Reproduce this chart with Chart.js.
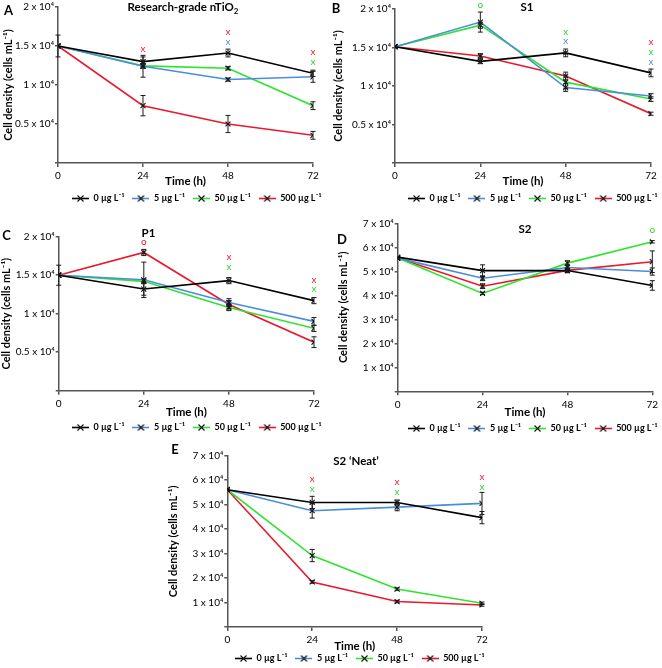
<!DOCTYPE html>
<html><head><meta charset="utf-8">
<script src="https://cdn.jsdelivr.net/npm/chart.js@4.4.0/dist/chart.umd.min.js"></script>
<style>
html,body{margin:0;padding:0;background:#fff;overflow:hidden}
#wrap{position:relative;width:662px;height:668px;overflow:hidden;font-family:Lato,"Open Sans",sans-serif;background:#fff}
canvas{position:absolute}
.lbl{position:absolute;transform:translate(-50%,-50%);font-weight:bold;white-space:nowrap;color:#000;line-height:1}
.letter{font-size:13px}
.ttl{font-size:11.5px}
</style></head><body>
<div id="wrap">
<canvas id="cA" width="331" height="218" style="left:0px;top:0px"></canvas>
<canvas id="cB" width="331" height="218" style="left:331px;top:0px"></canvas>
<canvas id="cC" width="331" height="227" style="left:0px;top:220px"></canvas>
<canvas id="cD" width="331" height="238" style="left:331px;top:210px"></canvas>
<canvas id="cE" width="340" height="238" style="left:160px;top:440px"></canvas>
<div class="lbl letter" style="left:8.5px;top:10px">A</div>
<div class="lbl letter" style="left:336px;top:8px">B</div>
<div class="lbl letter" style="left:6.5px;top:235px">C</div>
<div class="lbl letter" style="left:342px;top:239px">D</div>
<div class="lbl letter" style="left:175px;top:449px">E</div>
<div class="lbl ttl" style="left:183px;top:8px">Research-grade nTiO<sub style="font-size:8px">2</sub></div>
<div class="lbl ttl" style="left:527px;top:7px">S1</div>
<div class="lbl ttl" style="left:148.5px;top:233px">P1</div>
<div class="lbl ttl" style="left:525px;top:229px">S2</div>
<div class="lbl ttl" style="left:356px;top:461px">S2 ‘Neat’</div>
</div>
<script>
// ---------- data ----------
const times = [0, 24, 48, 72];
const seriesNames = ['0 µg L⁻¹', '5 µg L⁻¹', '50 µg L⁻¹', '500 µg L⁻¹'];
const yTicks20k = ['', '0.5 x 10⁴', '1 x 10⁴', '1.5 x 10⁴', '2 x 10⁴'];
const yTicks70k = ['', '1 x 10⁴', '2 x 10⁴', '3 x 10⁴', '4 x 10⁴', '5 x 10⁴', '6 x 10⁴', '7 x 10⁴'];

// Panel A: Research-grade nTiO2 (cells mL-1)
const aMean0 = [15000, 13000, 14100, 11500];
const aMean5 = [15000, 12400, 10700, 11050];
const aMean50 = [15000, 12450, 12150, 7350];
const aMean500 = [15000, 7350, 5000, 3550];
const aErr0 = [0, 600, 500, 400];
const aErr5 = [1400, 1400, 200, 700];
const aErr50 = [0, 300, 200, 500];
const aErr500 = [0, 1300, 1100, 500];
const aMarks = [[24, 14600, 'x', 3], [48, 16800, 'x', 3], [48, 15600, 'x', 1], [72, 14200, 'x', 3], [72, 12950, 'x', 2]];

// Panel B: S1
const bMean0 = [15100, 13200, 14300, 11700];
const bMean5 = [15100, 18300, 9800, 8700];
const bMean50 = [15100, 17900, 10500, 8300];
const bMean500 = [15100, 13900, 11300, 6400];
const bErr0 = [0, 300, 500, 500];
const bErr5 = [0, 1300, 500, 300];
const bErr50 = [0, 400, 800, 300];
const bErr500 = [0, 300, 500, 200];
const bMarks = [[24, 20600, 'o', 2], [48, 17100, 'x', 2], [48, 15900, 'x', 1], [72, 15700, 'x', 3], [72, 14500, 'x', 2], [72, 13100, 'x', 1]];

// Panel C: P1
const cMean0 = [15000, 13200, 14300, 11700];
const cMean5 = [15000, 14400, 11450, 9000];
const cMean50 = [15000, 14200, 10800, 8100];
const cMean500 = [15000, 17950, 11200, 6300];
const cErr0 = [1300, 800, 400, 400];
const cErr5 = [0, 2300, 500, 500];
const cErr50 = [0, 300, 400, 400];
const cErr500 = [0, 400, 500, 700];
const cMarks = [[24, 19400, 'o', 3], [48, 17350, 'x', 3], [48, 16100, 'x', 2], [72, 14400, 'x', 3], [72, 13250, 'x', 2]];

// Panel D: S2
const dMean0 = [55900, 50300, 50300, 44100];
const dMean5 = [55500, 47100, 51600, 49900];
const dMean50 = [55500, 40800, 53400, 62300];
const dMean500 = [55500, 43800, 50400, 54000];
const dErr0 = [0, 2400, 800, 2000];
const dErr5 = [0, 1000, 1000, 1500];
const dErr50 = [0, 500, 1000, 500];
const dErr500 = [0, 1000, 1000, 4500];
const dMarks = [[72, 67400, 'o', 2]];

// Panel E: S2 'Neat'
const eMean0 = [56100, 50900, 50900, 44700];
const eMean5 = [56100, 47500, 49000, 50500];
const eMean50 = [56100, 29200, 15500, 9700];
const eMean500 = [56100, 18400, 10400, 9000];
const eErr0 = [0, 2500, 1000, 2500];
const eErr5 = [0, 3000, 1500, 4500];
const eErr50 = [0, 2500, 500, 500];
const eErr500 = [0, 500, 500, 500];
const eMarks = [[24, 60400, 'x', 3], [24, 56300, 'x', 2], [48, 59400, 'x', 3], [48, 55300, 'x', 2], [72, 61200, 'x', 3], [72, 57200, 'x', 2]];

// ---------- styles / layout ----------
const FAM = 'Lato, "Open Sans", sans-serif';
const lineColors = ['#000000', '#4a8ddc', '#2fe32f', '#e8192c'];
const markColors = ['#000000', '#4a8ddc', '#2fd42f', '#e8192c'];
const axisColor = '#555555';
const LEG_FS = 9, LEG_PAD = 8, LEG_BOX = 17;
const X_TITLE_HALF = 11.5 * 1.2 / 2;

const panels = [
  {cv:'cA', top:7, right:18, yW:58, bottom:165, legCY:200, titleCY:183.3, yTP:1.4, legX:72, yMax:20000, yStep:5000, yLab:yTicks20k,
   means:[aMean0,aMean5,aMean50,aMean500], errs:[aErr0,aErr5,aErr50,aErr500], marks:aMarks},
  {cv:'cB', top:9, right:11, yW:64, bottom:165, legCY:200, titleCY:183, yTP:0.4, legX:77, yMax:20000, yStep:5000, yLab:yTicks20k,
   means:[bMean0,bMean5,bMean50,bMean500], errs:[bErr0,bErr5,bErr50,bErr500], marks:bMarks},
  {cv:'cC', top:16.7, right:17, yW:58.7, bottom:172.7, legCY:209, titleCY:194, yTP:0, legX:72, yMax:20000, yStep:5000, yLab:yTicks20k,
   means:[cMean0,cMean5,cMean50,cMean500], errs:[cErr0,cErr5,cErr50,cErr500], marks:cMarks},
  {cv:'cD', top:13.3, right:9.7, yW:66.7, bottom:183.3, legCY:220, titleCY:204, yTP:6, legX:77, yMax:70000, yStep:10000, yLab:yTicks70k,
   means:[dMean0,dMean5,dMean50,dMean500], errs:[dErr0,dErr5,dErr50,dErr500], marks:dMarks},
  {cv:'cE', top:15.7, right:18, yW:67.3, bottom:189, legCY:220, titleCY:208, yTP:6.7, legX:75, yMax:70000, yStep:10000, yLab:yTicks70k,
   means:[eMean0,eMean5,eMean50,eMean500], errs:[eErr0,eErr5,eErr50,eErr500], marks:eMarks}
];

// legend marker images: coloured line with black cross
const legendImgs = lineColors.map(c => {
  const cv = document.createElement('canvas');
  cv.width = LEG_BOX; cv.height = 9;
  const g = cv.getContext('2d');
  g.strokeStyle = c; g.lineWidth = 1.6;
  g.beginPath(); g.moveTo(0, 4.5); g.lineTo(LEG_BOX, 4.5); g.stroke();
  const m = LEG_BOX / 2;
  g.strokeStyle = '#111'; g.lineWidth = 1.1;
  g.beginPath(); g.moveTo(m - 3, 1.5); g.lineTo(m + 3, 7.5); g.moveTo(m + 3, 1.5); g.lineTo(m - 3, 7.5); g.stroke();
  return cv;
});

const errPlugin = {
  id: 'errbars',
  afterDatasetsDraw(chart) {
    const ctx = chart.ctx, xs = chart.scales.x, ys = chart.scales.y;
    ctx.save();
    ctx.strokeStyle = '#1a1a1a'; ctx.lineWidth = 1;
    chart.data.datasets.forEach(ds => {
      ds.errors.forEach((e, i) => {
        if (!e) return;
        const px = xs.getPixelForValue(ds.data[i].x);
        const y1 = ys.getPixelForValue(ds.data[i].y + e);
        const y2 = ys.getPixelForValue(ds.data[i].y - e);
        ctx.beginPath();
        ctx.moveTo(px, y1); ctx.lineTo(px, y2);
        ctx.moveTo(px - 2.5, y1); ctx.lineTo(px + 2.5, y1);
        ctx.moveTo(px - 2.5, y2); ctx.lineTo(px + 2.5, y2);
        ctx.stroke();
      });
    });
    ctx.restore();
  }
};

panels.forEach(P => {
  const canvas = document.getElementById(P.cv);
  const H = Math.round(P.legCY + LEG_PAD + LEG_FS / 2);
  canvas.height = H;
  const legH = LEG_FS + 2 * LEG_PAD;
  const xH = H - legH - P.bottom;
  const xTP = (H - legH) - P.titleCY - X_TITLE_HALF;

  const datasets = P.means.map((m, s) => ({
    label: seriesNames[s],
    data: times.map((t, i) => ({x: t, y: m[i]})),
    errors: P.errs[s],
    borderColor: lineColors[s],
    backgroundColor: lineColors[s],
    borderWidth: 1.6,
    tension: 0,
    fill: false,
    pointStyle: 'crossRot',
    pointRadius: 3.5,
    pointBorderColor: '#111',
    pointBorderWidth: 1.1
  }));
  const markPlugin = {
    id: 'marks',
    afterDraw(chart) {
      const ctx = chart.ctx, xs = chart.scales.x, ys = chart.scales.y;
      ctx.save();
      ctx.font = '10px ' + FAM;
      ctx.textAlign = 'center'; ctx.textBaseline = 'middle';
      P.marks.forEach(mk => {
        ctx.fillStyle = markColors[mk[3]];
        ctx.fillText(mk[2], xs.getPixelForValue(mk[0]), ys.getPixelForValue(mk[1]));
      });
      ctx.restore();
    }
  };
  const legendShift = {
    id: 'legendShift',
    afterLayout(chart) {
      const lg = chart.legend;
      lg.left = P.legX - LEG_PAD;
      lg.right = lg.left + 1000;
    }
  };
  new Chart(canvas, {
    type: 'line',
    data: {datasets},
    options: {
      responsive: false,
      devicePixelRatio: 1,
      animation: false,
      events: [],
      layout: {padding: {top: P.top, right: P.right, left: 0, bottom: 0}},
      plugins: {
        tooltip: {enabled: false},
        legend: {
          display: true, position: 'bottom', align: 'start',
          labels: {
            usePointStyle: true, pointStyleWidth: LEG_BOX, padding: LEG_PAD,
            font: {size: LEG_FS, weight: 'bold', family: FAM}, color: '#000',
            generateLabels(chart) {
              return chart.data.datasets.map((ds, i) => ({
                text: ds.label, pointStyle: legendImgs[i], fillStyle: lineColors[i],
                strokeStyle: lineColors[i], lineWidth: 0, hidden: false, datasetIndex: i, fontColor: '#000'
              }));
            }
          }
        }
      },
      scales: {
        x: {
          type: 'linear', min: 0, max: 72,
          ticks: {stepSize: 24, autoSkip: false, maxRotation: 0, padding: 3, color: '#000', font: {size: 10, family: FAM}},
          grid: {drawOnChartArea: false, drawTicks: true, tickLength: 4, color: axisColor, lineWidth: 1.5},
          border: {display: true, color: axisColor, width: 1.5},
          title: {display: true, text: 'Time (h)', color: '#000', font: {size: 11.5, weight: 'bold', family: FAM}, padding: {top: 0, bottom: xTP}},
          afterFit(s) { s.height = xH; }
        },
        y: {
          type: 'linear', min: 0, max: P.yMax,
          ticks: {stepSize: P.yStep, padding: 1, color: '#000', font: {size: 10, family: FAM},
                  callback: (v) => P.yLab[Math.round(v / P.yStep)]},
          grid: {drawOnChartArea: false, drawTicks: true, tickLength: 3, color: axisColor, lineWidth: 1.5},
          border: {display: true, color: axisColor, width: 1.5},
          title: {display: true, text: 'Cell density (cells mL⁻¹)', color: '#000', font: {size: 11, weight: 'bold', family: FAM}, padding: {top: P.yTP, bottom: 0}},
          afterFit(s) { s.width = P.yW; }
        }
      }
    },
    plugins: [errPlugin, markPlugin, legendShift]
  });
});
</script>
</body></html>
